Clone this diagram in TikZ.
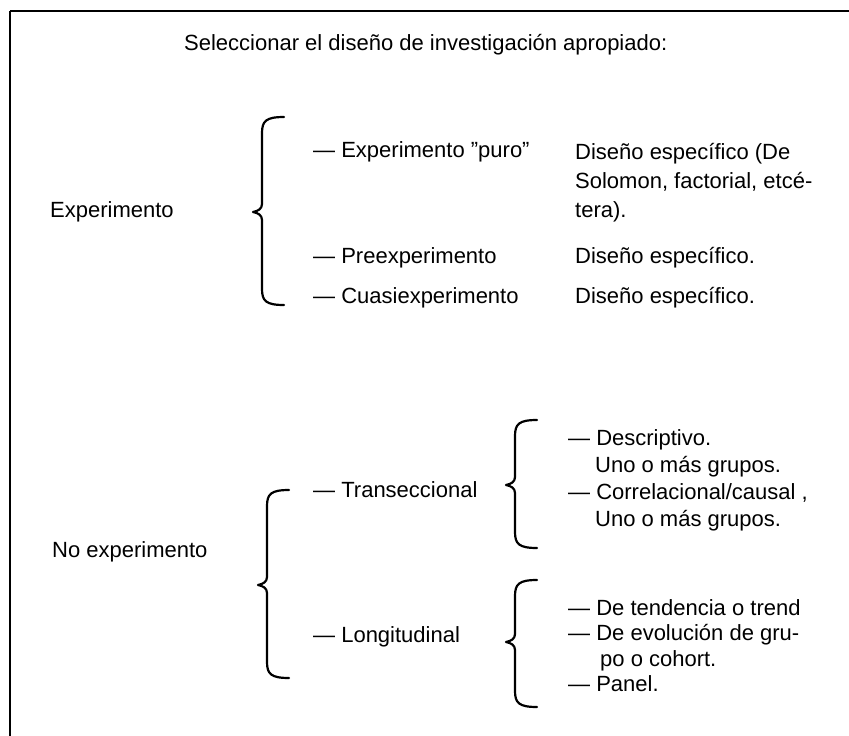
\documentclass[tikz,border=0pt]{standalone}
\usepackage{fontspec}
\setmainfont{Liberation Sans}
\usetikzlibrary{positioning}
\tikzset{
  txt/.style={inner sep=0pt,anchor=west,font=\fontsize{22}{29}\selectfont,align=left},
  blk/.style={txt,anchor=north west,font=\fontsize{22}{#1}\selectfont},
  brc/.style={draw,line width=2.2pt,line cap=round,line join=round},
  frm/.style={line width=2pt},
}
% curly brace: x of the stem, top y, tip y, bottom y
\newcommand{\cbrace}[4]{%
  \draw[brc] (#1+22,#2) .. controls (#1+4,#2) and (#1,#2-4) .. (#1,#2-16) -- (#1,#3+8)
    .. controls (#1,#3+3) and (#1-4,#3+1) .. (#1-9,#3)
    .. controls (#1-4,#3-1) and (#1,#3-3) .. (#1,#3-8) -- (#1,#4+16)
    .. controls (#1,#4+4) and (#1+4,#4) .. (#1+22,#4);}
\begin{document}
\begin{tikzpicture}[x=1pt,y=1pt]
  \useasboundingbox (0,0) rectangle (849,-736);
  \draw[frm,line width=2.6pt] (10,-736) -- (10,-11);
  \draw[frm,line width=1.4pt] (10,-11) -- (849,-11);
  \node[txt] (title) at (184,-45) {Seleccionar el diseño de investigación apropiado:};
  % experimento
  \node[txt] (exp) at (50,-212) {Experimento};
  \cbrace{262}{-117}{-212}{-305}
  \node[txt] (puro) at (313,-152) {— Experimento "puro"};
  \node[blk=29] (puroD) at (575,-143) {Diseño específico (De\\Solomon, factorial, etcé-\\tera).};
  \node[txt] (pre) at (313,-258) {— Preexperimento};
  \node[txt] (preD) at (575,-258) {Diseño específico.};
  \node[txt] (cuasi) at (313,-298) {— Cuasiexperimento};
  \node[txt] (cuasiD) at (575,-298) {Diseño específico.};
  % no experimento
  \node[txt] (noexp) at (52,-552) {No experimento};
  \cbrace{267}{-490}{-585}{-678}
  \node[txt] (trans) at (313,-490) {— Transeccional};
  \cbrace{515}{-420}{-485}{-548}
  \node[blk=27] (transD) at (568,-429) {— Descriptivo.\\\hspace*{27pt}Uno o más grupos.\\— Correlacional/causal ,\\\hspace*{27pt}Uno o más grupos.};
  \node[txt] (longi) at (313,-637) {— Longitudinal};
  \cbrace{515}{-580}{-642}{-707}
  \node[blk=25.5] (longiD) at (568,-599) {— De tendencia o trend\\— De evolución de gru-\\\hspace*{32pt}po o cohort.\\— Panel.};
\end{tikzpicture}
\end{document}
